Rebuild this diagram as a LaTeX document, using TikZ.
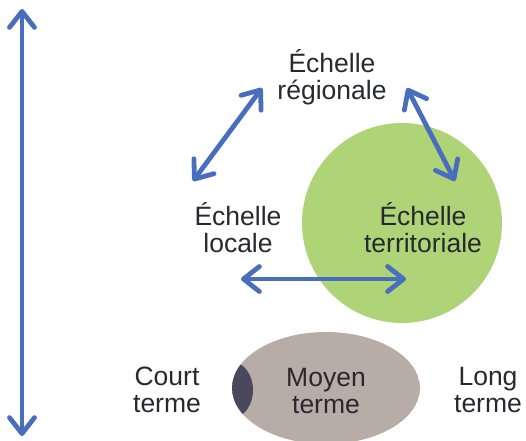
\documentclass[tikz,border=0pt]{standalone}
\usepackage{fontspec}
\setmainfont{Liberation Sans}
\usetikzlibrary{arrows.meta}
\definecolor{arrowblue}{RGB}{74,110,190}
\definecolor{leafgreen}{RGB}{174,212,119}
\definecolor{taupe}{RGB}{184,172,166}
\definecolor{darkslate}{RGB}{74,72,92}
\definecolor{textgray}{RGB}{40,40,48}
\tikzset{
  dblarrow/.style={draw=arrowblue, line width=4.8pt, line cap=round,
    {Straight Barb[round,length=16pt,width=25pt]}-{Straight Barb[round,length=16pt,width=25pt]}},
  label/.style={font=\fontsize{26.5}{27}\selectfont, text=textgray, align=center, inner sep=0pt, anchor=center}
}
\begin{document}
\begin{tikzpicture}[x=1pt,y=-1pt]
\useasboundingbox (0,0) rectangle (526,440);
% green circle
\fill[leafgreen] (402,223) circle (100);
% ellipse with dark crescent
\begin{scope}
  \clip (326,388) ellipse (94 and 56);
  \fill[taupe] (326,388) ellipse (94 and 56);
  \fill[darkslate] (232,390) ellipse (21 and 28);
\end{scope}
% coordinates
\coordinate (vt) at (22,9);
\coordinate (vb) at (22,436);
\coordinate (la) at (193,181);
\coordinate (ra) at (262,88);
\coordinate (rb) at (407,88);
\coordinate (tb) at (455,181);
\coordinate (hl) at (241,279);
\coordinate (hr) at (406,279);
% arrows
\draw[dblarrow] (vt) -- (vb);
\draw[dblarrow] (la) -- (ra);
\draw[dblarrow] (rb) -- (tb);
\draw[dblarrow] (hl) -- (hr);
% labels
\node[label] (reg) at (332,77) {Échelle\\régionale};
\node[label] (loc) at (238,228) {Échelle\\locale};
\node[label] (ter) at (423,228) {Échelle\\territoriale};
\node[label] (court) at (167,390) {Court\\terme};
\node[label] (moyen) at (326,391) {Moyen\\terme};
\node[label] (long) at (488,390) {Long\\terme};
\end{tikzpicture}
\end{document}
